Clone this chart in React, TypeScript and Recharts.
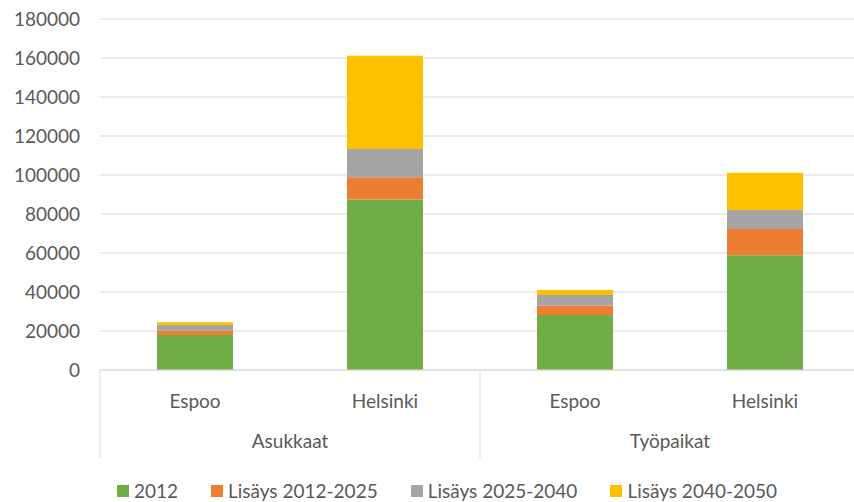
import { BarChart, Bar, XAxis, YAxis, CartesianGrid, Legend } from "recharts";

const cities = ["Espoo", "Helsinki", "Espoo", "Helsinki"];
const groups = ["Asukkaat", "Asukkaat", "Työpaikat", "Työpaikat"];
const base2012 = [18000, 87500, 28200, 58800];
const add2025 = [2200, 11300, 4800, 13500];
const add2040 = [2900, 14500, 5500, 9700];
const add2050 = [1400, 47900, 2500, 19200];
const yTicks = [0, 20000, 40000, 60000, 80000, 100000, 120000, 140000, 160000, 180000];

const SERIES = [
  { key: "s2012", label: "2012", color: "#70AD47" },
  { key: "s2025", label: "Lisäys 2012-2025", color: "#ED7D31" },
  { key: "s2040", label: "Lisäys 2025-2040", color: "#A5A5A5" },
  { key: "s2050", label: "Lisäys 2040-2050", color: "#FFC000" },
];

const data = cities.map((city, i) => ({
  city,
  group: groups[i],
  s2012: base2012[i],
  s2025: add2025[i],
  s2040: add2040[i],
  s2050: add2050[i],
}));

const FONT = "Lato, 'Open Sans', sans-serif";
const TEXT = "#595959";
const LINE = "#D9D9D9";
const BAND = 190;

function CityTick({ x, y, payload }: any) {
  return (
    <text x={x} y={y + 38} textAnchor="middle" fill={TEXT} fontSize={19} fontFamily={FONT}>
      {payload.value}
    </text>
  );
}

function GroupTick({ x, y, payload, index }: any) {
  const sep = (sx: number) => (
    <line x1={sx} x2={sx} y1={y - 50} y2={y + 38} stroke={LINE} strokeWidth={1} />
  );
  if (index % 2 === 0) {
    return (
      <g>
        {sep(x - BAND / 2)}
        <text x={x + BAND / 2} y={y + 28} textAnchor="middle" fill={TEXT} fontSize={19} fontFamily={FONT}>
          {payload.value}
        </text>
      </g>
    );
  }
  return index === 3 ? sep(x + BAND / 2) : <g />;
}

function LegendBox() {
  return (
    <div
      style={{
        display: "flex",
        justifyContent: "center",
        gap: 33,
        marginTop: 19,
        fontFamily: FONT,
        fontSize: 19,
        color: TEXT,
      }}
    >
      {SERIES.map((s) => (
        <div key={s.key} style={{ display: "flex", alignItems: "center" }}>
          <span style={{ display: "inline-block", width: 12, height: 12, background: s.color, marginRight: 5 }} />
          {s.label}
        </div>
      ))}
    </div>
  );
}

export default function App() {
  return (
    <div style={{ position: "absolute", left: 0, top: 0, width: 854, height: 502, overflow: "hidden", background: "#fff" }}>
      <BarChart
        width={870}
        height={502}
        data={data}
        margin={{ top: 19, right: 10, bottom: 0, left: 0 }}
        barCategoryGap="30%"
      >
        <CartesianGrid vertical={false} stroke={LINE} />
        <YAxis
          domain={[0, 180000]}
          ticks={yTicks}
          width={100}
          axisLine={false}
          tickLine={false}
          tickSize={0}
          tickMargin={20}
          tick={{ fill: TEXT, fontSize: 19, fontFamily: FONT }}
        />
        <XAxis
          dataKey="city"
          height={50}
          axisLine={{ stroke: LINE }}
          tickLine={false}
          tickSize={0}
          tickMargin={0}
          interval={0}
          tick={<CityTick />}
        />
        <XAxis
          xAxisId="grp"
          dataKey="group"
          height={40}
          axisLine={false}
          tickLine={false}
          tickSize={0}
          tickMargin={0}
          interval={0}
          tick={<GroupTick />}
        />
        <Legend
          verticalAlign="bottom"
          height={42}
          content={<LegendBox />}
          wrapperStyle={{ left: 0, width: 894 }}
        />
        {SERIES.map((s) => (
          <Bar key={s.key} dataKey={s.key} stackId="a" fill={s.color} isAnimationActive={false} />
        ))}
      </BarChart>
    </div>
  );
}
